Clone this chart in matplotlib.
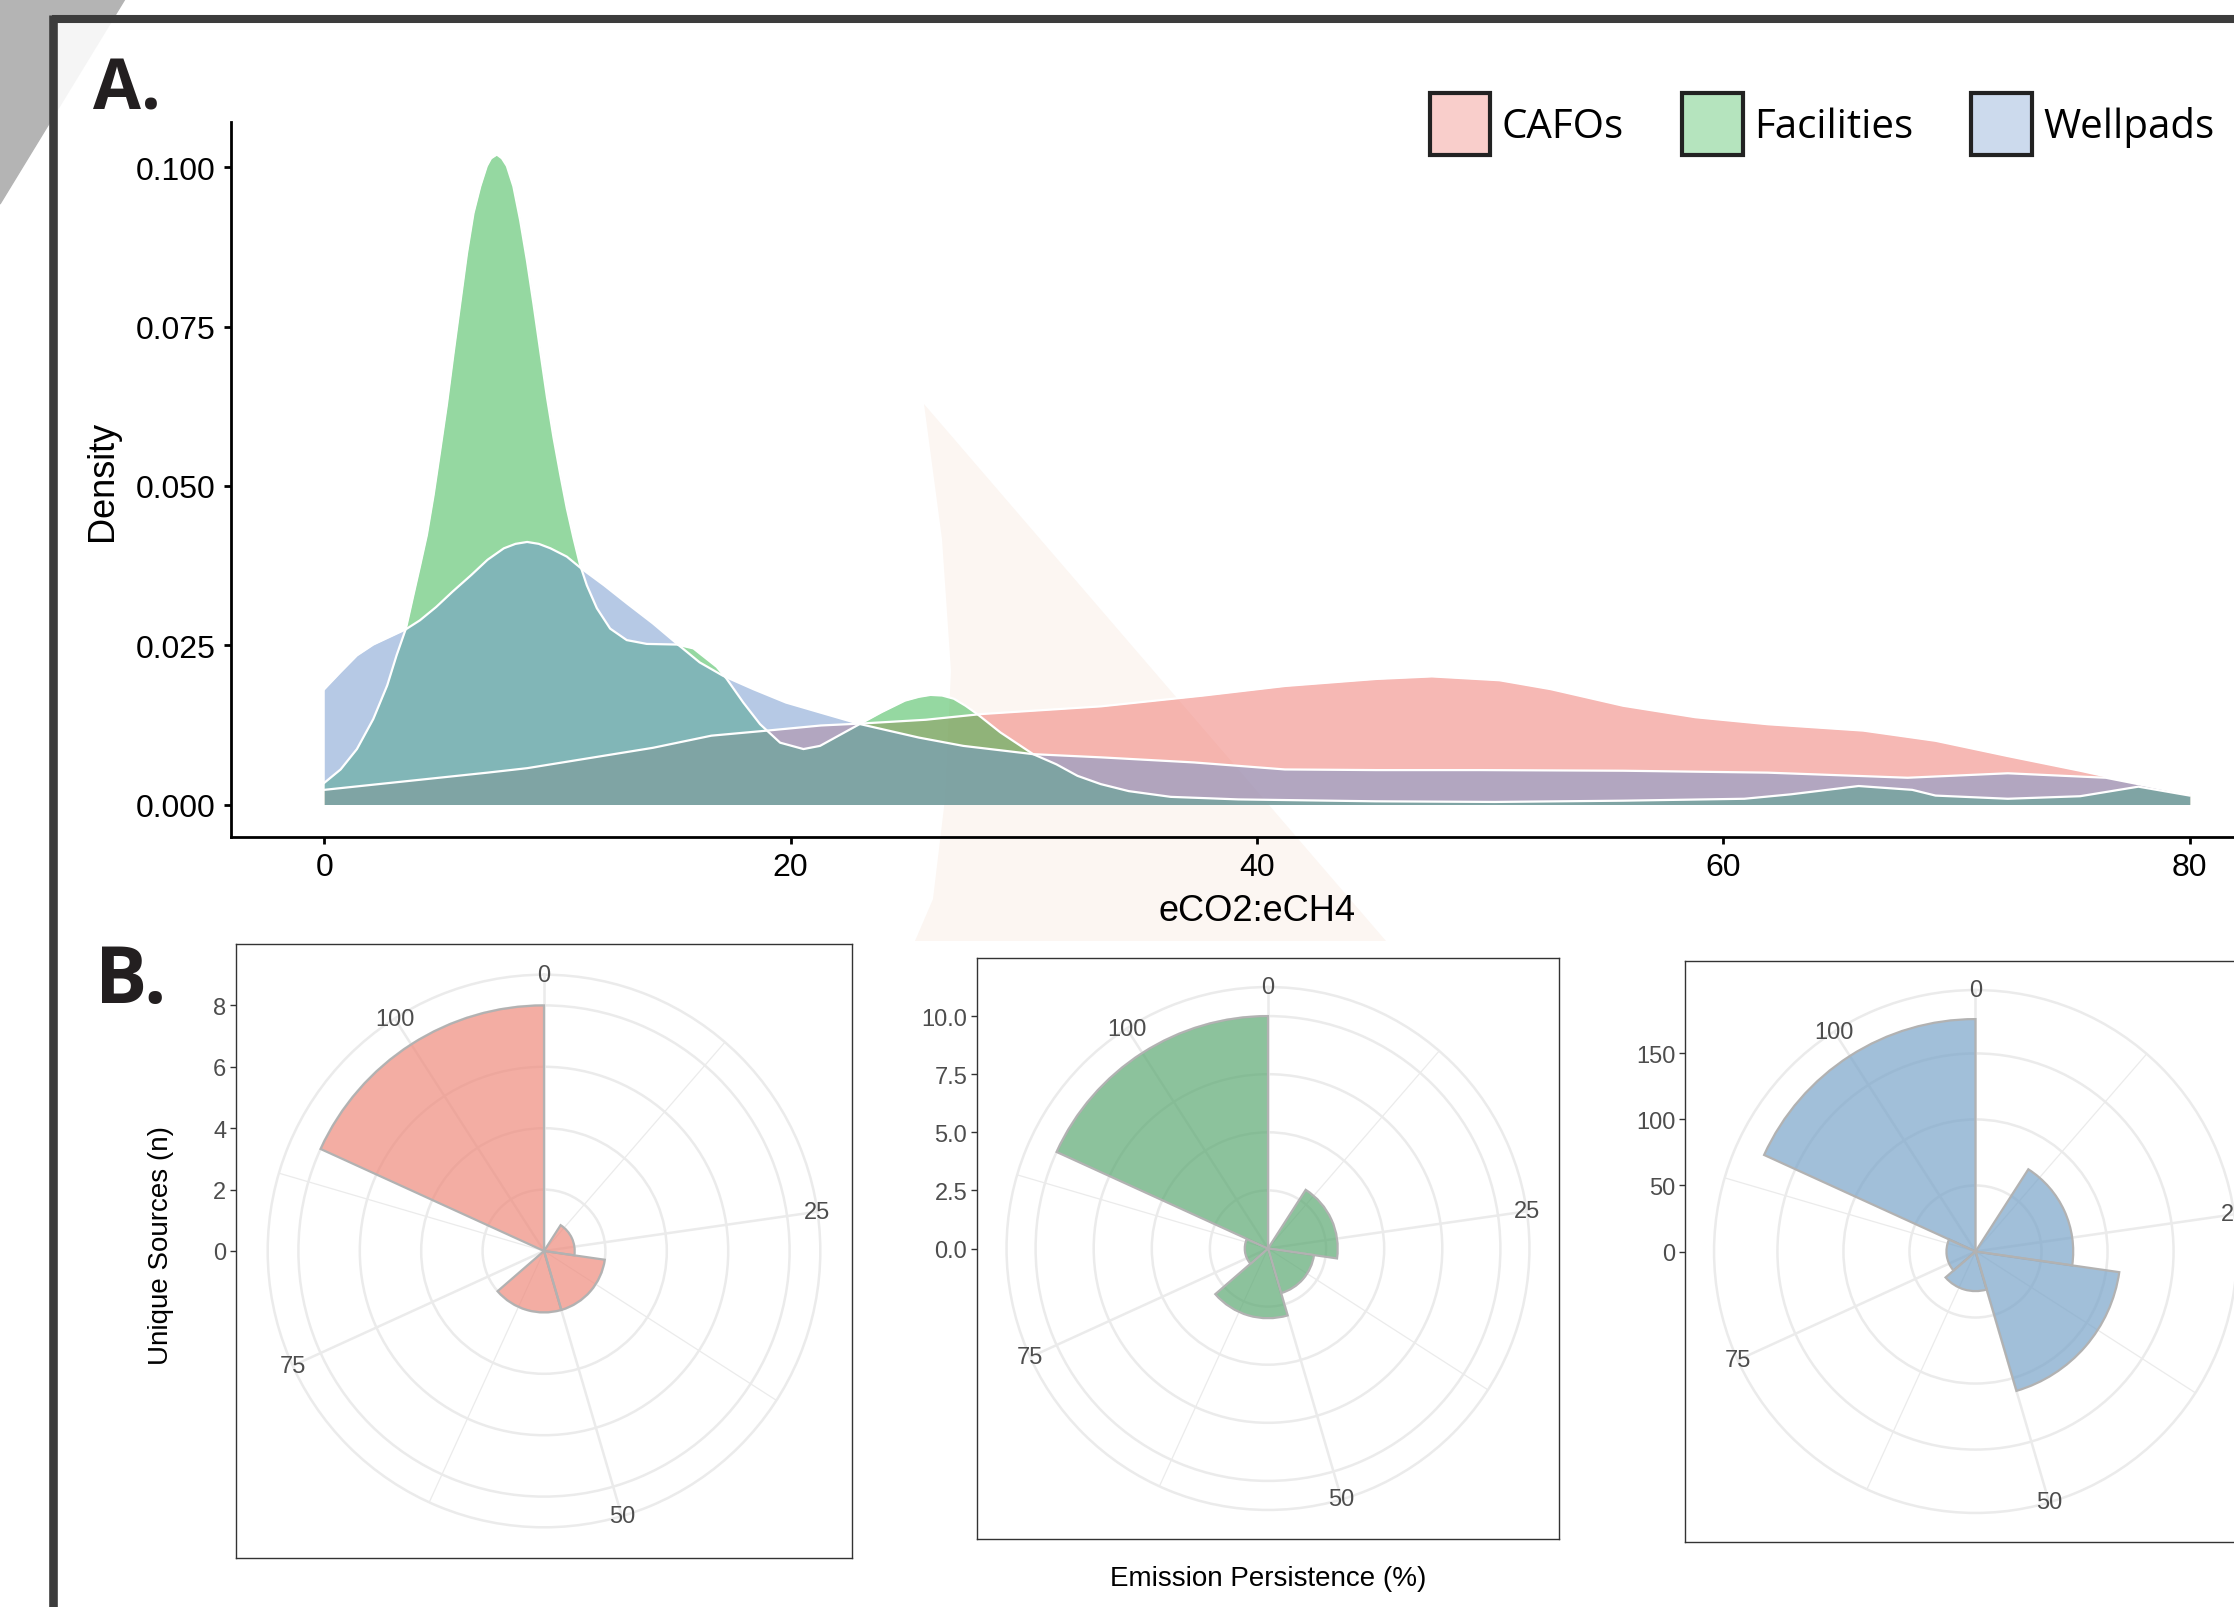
import numpy as np
import matplotlib.pyplot as plt
from matplotlib.patches import Patch, Polygon, Rectangle
from matplotlib.lines import Line2D
from matplotlib.colors import to_rgba

W, H = 2234, 1608
plt.rcParams['font.family'] = ['Liberation Sans', 'DejaVu Sans']

# ---- panel A: density of eCO2:eCH4 ----
cafo_x = [0, 7.0, 8.7, 14.1, 16.6, 19.0, 21.3, 23.0, 25.8, 28.2, 33.3, 37.7, 41.2, 45.1,
          47.5, 50.4, 52.6, 55.7, 58.8, 61.9, 66.0, 69.1, 72.2, 75.3, 78.3, 80]
cafo_d = [.0023, .0050, .0057, .0089, .0108, .0116, .0124, .0127, .0133, .0142, .0154,
          .0171, .0186, .0197, .0201, .0195, .0181, .0155, .0137, .0126, .0116, .0100,
          .0076, .0053, .0029, .0019]

fac_x = [0, 0.7, 1.4, 2.1, 2.7, 3.1, 3.5, 3.83, 4.11, 4.40, 4.69, 4.97, 5.26, 5.54, 5.83,
         6.12, 6.40, 6.69, 6.97, 7.15, 7.40, 7.62, 7.83, 8.11, 8.40, 8.69, 8.97, 9.26,
         9.55, 9.83, 10.12, 10.40, 10.69, 10.97, 11.26, 11.69, 12.26, 12.97, 13.83, 15.12,
         15.83, 16.83, 17.26, 17.97, 18.69, 19.55, 20.55, 21.26, 22.9, 23.9, 24.9, 25.5,
         26.0, 26.5, 27.0, 27.5, 28.0, 29.0, 30.4, 31.4, 32.3, 33.3, 34.5, 36.3, 39.2,
         45.1, 50.2, 55.7, 60.9, 62.9, 65.8, 68.1, 69.1, 72.2, 75.3, 77.8, 80]
fac_d = [.0034, .0055, .0087, .0134, .0187, .0234, .0276, .0330, .0375, .0423, .0486,
         .0555, .0628, .0707, .0786, .0865, .0928, .0970, .1002, .1014, .1020, .1014,
         .1002, .0970, .0917, .0854, .0786, .0712, .0639, .0576, .0518, .0465, .0418,
         .0376, .0344, .0308, .0276, .0258, .0252, .0251, .0245, .0216, .0197, .0160,
         .0126, .0097, .0087, .0092, .0125, .0145, .0163, .0169, .0172, .0171, .0166,
         .0155, .0142, .0113, .0079, .0063, .0045, .0032, .0021, .0012, .0008, .0005,
         .0004, .0006, .0009, .0016, .0029, .0023, .0014, .0009, .0013, .0028, .0014]

well_x = [0, 0.7, 1.4, 2.1, 2.8, 3.5, 4.1, 4.8, 5.5, 6.3, 7.0, 7.7, 8.2, 8.7, 9.2, 9.7,
          10.4, 11.0, 12.0, 13.0, 14.1, 15.2, 16.1, 17.1, 18.4, 19.8, 21.3, 23.0, 25.5,
          27.4, 30.4, 33.3, 37.3, 41.2, 45.1, 49.6, 55.7, 61.9, 67.9, 72.2, 76.4, 80]
well_d = [.0181, .0208, .0234, .0251, .0263, .0275, .0289, .0310, .0334, .0360, .0384,
          .0402, .0409, .0412, .0409, .0402, .0389, .0371, .0344, .0315, .0284, .0250,
          .0223, .0202, .0181, .0160, .0144, .0126, .0105, .0092, .0079, .0074, .0066,
          .0055, .0054, .0054, .0053, .0050, .0042, .0049, .0042, .0016]

source_names = ['CAFOs', 'Facilities', 'Wellpads']
fill_colors = ['#ef736b', '#2db345', '#6f95cd']

# ---- panel B: histograms of emission persistence (%) ----
bin_mid = [20, 40, 60, 80, 100]
bin_width = 20
persist_span = 110
cafo_n = [1, 2, 2, 0, 8]
fac_n = [3, 2, 3, 1, 10]
well_n = [74, 110, 30, 22, 176]
theta_labels = [0, 25, 50, 75, 100]
theta_minor = [12.5, 37.5, 62.5, 87.5]
bar_colors = ['#ef8b7d', '#5ca973', '#79a4c9']


def rect(x0, y0, x1, y1):
    return [x0 / W, 1 - y1 / H, (x1 - x0) / W, (y1 - y0) / H]


def fpt(x, y):
    return (x / W, 1 - y / H)


fig = plt.figure(figsize=(W / 100, H / 100), dpi=100)

# slide decoration behind the figure
fig.patches.append(Polygon([fpt(0, 0), fpt(125, 0), fpt(0, 205)], closed=True,
                           transform=fig.transFigure, color='#b4b4b4', zorder=-5))
fig.patches.append(Rectangle(fpt(52, 1608), (W - 52) / W, (1608 - 20) / H,
                             transform=fig.transFigure, color='white', alpha=0.88,
                             zorder=-4, lw=0))
peach = [(924, 405), (942, 540), (951, 672), (945, 800), (933, 900), (915, 942), (1386, 942)]
fig.patches.append(Polygon([fpt(x, y) for x, y in peach], closed=True,
                           transform=fig.transFigure, color='#fcf6f2', zorder=-3, lw=0))
fig.lines.append(Line2D([52 / W, 1], [1 - 19.5 / H, 1 - 19.5 / H], transform=fig.transFigure,
                        color='#3c3c3c', lw=5.8, zorder=10, solid_capstyle='butt'))
fig.lines.append(Line2D([52.5 / W, 52.5 / W], [1 - 16 / H, 0], transform=fig.transFigure,
                        color='#3c3c3c', lw=6.2, zorder=10, solid_capstyle='butt'))

# ---- panel A ----
axA = fig.add_axes(rect(231, 123, 2283, 838))
axA.set_facecolor('none')
series = [(cafo_x, cafo_d), (fac_x, fac_d), (well_x, well_d)]
for (x, d), c in zip(series, fill_colors):
    axA.fill_between(x, 0, d, color=c, alpha=0.5, lw=0)
    axA.plot(x, d, color='white', lw=1.6, solid_joinstyle='round')

peak = max(fac_d)
axA.set_xlim(-4, 84)
axA.set_ylim(-0.05 * peak, 1.05 * peak)
axA.set_xticks([0, 20, 40, 60, 80])
axA.set_yticks([0, 0.025, 0.05, 0.075, 0.1])
axA.set_yticklabels(['0.000', '0.025', '0.050', '0.075', '0.100'])
for s in ['top', 'right']:
    axA.spines[s].set_visible(False)
for s in ['left', 'bottom']:
    axA.spines[s].set_linewidth(2)
    axA.spines[s].set_color('black')
axA.tick_params(labelsize=23, length=5, width=2, pad=6, colors='black')
axA.set_ylabel('Density', fontsize=26)
axA.yaxis.set_label_coords(-0.054, 0.5)
axA.set_xlabel('eCO2:eCH4', fontsize=26)
axA.xaxis.set_label_coords(0.5, -0.078)

handles = [Patch(facecolor=to_rgba(c, 0.35), edgecolor='#222222', lw=3) for c in fill_colors]
axA.legend(handles, source_names, loc='upper left', ncol=3, frameon=False,
           bbox_to_anchor=(1430 / W, 1 - 94 / H), bbox_transform=fig.transFigure,
           prop={'family': 'Open Sans', 'size': 29}, handlelength=1.5, handleheight=2.0,
           handletextpad=0.28, columnspacing=1.45, borderpad=0, borderaxespad=0)

fig.text(93 / W, 1 - 109 / H, 'A.', fontsize=50, fontweight='bold', family='Open Sans',
         va='baseline', color='#231f20')
fig.text(95 / W, 1 - 1003 / H, 'B.', fontsize=56, fontweight='bold', family='Open Sans',
         va='baseline', color='#231f20')

# ---- panel B: polar histograms ----
panels = [
    (cafo_n, [0, 2, 4, 6, 8], ['0', '2', '4', '6', '8'], (236, 945, 852, 1559)),
    (fac_n, [0, 2.5, 5, 7.5, 10], ['0.0', '2.5', '5.0', '7.5', '10.0'], (977, 959, 1559, 1540)),
    (well_n, [0, 50, 100, 150], ['0', '50', '100', '150'], (1685, 962, 2266, 1543)),
]
to_theta = lambda v: np.deg2rad(np.asarray(v, dtype=float) / persist_span * 360)

for (counts, ticks, ticklabels, box), col in zip(panels, bar_colors):
    x0, y0, x1, y1 = box
    cx, cy = (x0 + x1) / 2, (y0 + y1) / 2
    side = 0.9 * min(x1 - x0, y1 - y0)
    ymax = max(counts)
    rmax = 1.125 * ymax

    axp = fig.add_axes(rect(cx - side / 2, cy - side / 2, cx + side / 2, cy + side / 2),
                       projection='polar')
    axp.set_zorder(1)
    axp.set_theta_zero_location('N')
    axp.set_theta_direction(-1)
    axp.set_axisbelow(True)
    axp.bar(to_theta(bin_mid), counts, width=to_theta(bin_width), align='center',
            facecolor=to_rgba(col, 0.7), edgecolor='#b2b2b2', lw=1.6, zorder=3)
    axp.set_ylim(0, rmax)
    axp.set_yticks(ticks[1:])
    axp.set_yticklabels([])
    axp.set_xticks(to_theta(theta_labels))
    axp.set_xticklabels([])
    axp.set_xticks(to_theta(theta_minor), minor=True)
    axp.grid(which='major', color='#ebebeb', lw=1.8)
    axp.xaxis.grid(True, which='minor', color='#ebebeb', lw=0.9)
    axp.tick_params(which='both', length=0)
    axp.spines['polar'].set_color('#ebebeb')
    axp.spines['polar'].set_linewidth(1.8)
    for t in theta_labels:
        axp.text(to_theta(t), rmax, str(t), ha='center', va='center', fontsize=17,
                 color='#4d4d4d', clip_on=False, zorder=5)

    axc = fig.add_axes(rect(x0, y0, x1, y1))
    axc.set_zorder(2)
    axc.set_facecolor('none')
    axc.set_xticks([])
    axc.set_ylim(-1.25 * ymax, 1.25 * ymax)
    axc.set_yticks(ticks)
    axc.set_yticklabels(ticklabels)
    axc.tick_params(axis='y', length=4.5, width=1, color='#333333', labelsize=17,
                    labelcolor='#4d4d4d', pad=2.5)
    for s in axc.spines.values():
        s.set_color('#333333')
        s.set_linewidth(1.0)

fig.text(161 / W, 1 - 1246 / H, 'Unique Sources (n)', rotation=90, fontsize=20,
         ha='center', va='center')
fig.text(1268 / W, 1 - 1579 / H, 'Emission Persistence (%)', fontsize=20,
         ha='center', va='center')

fig.savefig('out.png', dpi=100)
